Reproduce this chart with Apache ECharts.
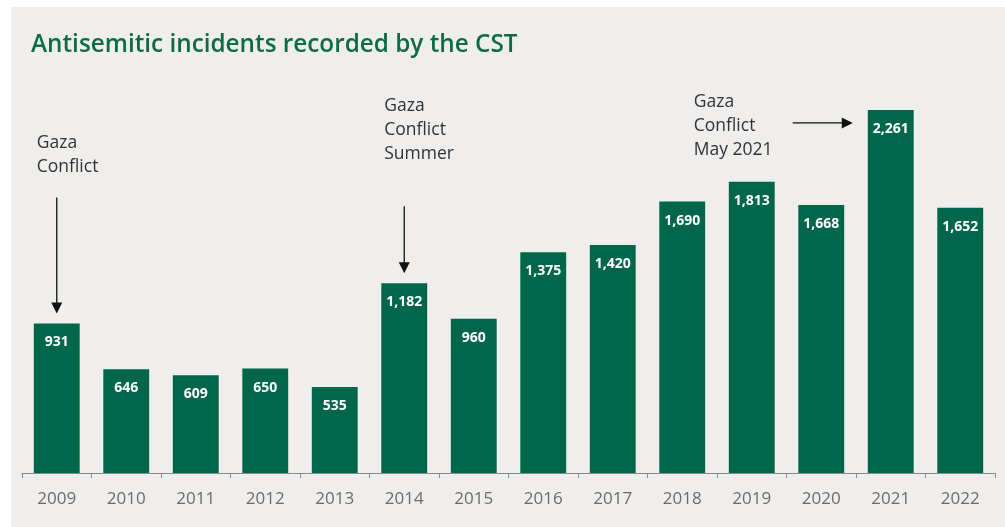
<!DOCTYPE html>
<html>
<head>
<meta charset="utf-8">
<script src="https://cdn.jsdelivr.net/npm/echarts@6/dist/echarts.min.js"></script>
<style>
  html, body { margin: 0; padding: 0; background: #ffffff; }
  #chart { position: absolute; left: 11px; top: 7px; width: 994px; height: 520px; background: #efeeec; }
</style>
</head>
<body>
<div id="chart"></div>
<script>
const years = ["2009", "2010", "2011", "2012", "2013", "2014", "2015", "2016", "2017", "2018", "2019", "2020", "2021", "2022"];
const incidents = [931, 646, 609, 650, 535, 1182, 960, 1375, 1420, 1690, 1813, 1668, 2261, 1652];
const notes = [
  { year: "2009", text: "Gaza\nConflict", dir: "down" },
  { year: "2014", text: "Gaza\nConflict\nSummer", dir: "down" },
  { year: "2021", text: "Gaza\nConflict\nMay 2021", dir: "right" },
];

const green = "#02664a";
const chart = echarts.init(document.getElementById("chart"));

const option = {
  backgroundColor: "#efeeec",
  title: {
    text: "Antisemitic incidents recorded by the CST",
    left: 15,
    top: 21,
    textStyle: {
      fontFamily: "Open Sans",
      fontWeight: 600,
      fontSize: 24.3,
      color: "#0d6b47",
    },
  },
  grid: { left: 11, right: 10, top: 64.5, bottom: 54 },
  xAxis: {
    type: "category",
    data: years,
    axisLine: { lineStyle: { color: "#8a8a8a", width: 1 } },
    axisTick: { show: true, length: 5, lineStyle: { color: "#8a8a8a" } },
    axisLabel: {
      fontFamily: "Open Sans",
      fontSize: 17,
      color: "#6b6b6b",
      margin: 18,
    },
  },
  yAxis: {
    type: "value",
    min: 0,
    max: 2500,
    show: false,
    splitLine: { show: false },
  },
  series: [
    {
      type: "bar",
      data: incidents,
      barCategoryGap: "34%",
      itemStyle: { color: green },
      label: {
        show: true,
        position: "insideTop",
        distance: 12,
        formatter: (p) => p.value.toLocaleString("en-US"),
        color: "#ffffff",
        fontFamily: "Open Sans",
        fontWeight: 700,
        fontSize: 14,
      },
      animation: false,
    },
  ],
  animation: false,
};
chart.setOption(option);

// annotations placed relative to each bar through the axis scales
const graphics = [];
notes.forEach((n) => {
  const i = years.indexOf(n.year);
  const [cx, top] = chart.convertToPixel({ seriesIndex: 0 }, [i, incidents[i]]);
  if (n.dir === "down") {
    const tipY = top - 10;
    const lines = n.text.split("\n").length;
    const startY = lines === 2 ? tipY - 116 : tipY - 67;
    const textTop = lines === 2 ? startY - 66 : startY - 112;
    graphics.push({
      type: "text",
      left: cx - 20,
      top: textTop,
      style: { text: n.text, font: '17.5px "Open Sans"', fill: "#333333", lineHeight: 24 },
    });
    graphics.push({
      type: "line",
      shape: { x1: cx, y1: startY, x2: cx, y2: tipY - 10 },
      style: { stroke: "#111111", lineWidth: 1.3 },
    });
    graphics.push({
      type: "polygon",
      shape: { points: [[cx - 5.5, tipY - 11], [cx + 5.5, tipY - 11], [cx, tipY]] },
      style: { fill: "#111111" },
    });
  } else {
    const barLeft = cx - 23;
    const tipX = barLeft - 15;
    const y = top + 13;
    graphics.push({
      type: "text",
      left: tipX - 159,
      top: y - 33,
      style: { text: n.text, font: '17.5px "Open Sans"', fill: "#333333", lineHeight: 24 },
    });
    graphics.push({
      type: "line",
      shape: { x1: tipX - 60, y1: y, x2: tipX - 10, y2: y },
      style: { stroke: "#111111", lineWidth: 1.3 },
    });
    graphics.push({
      type: "polygon",
      shape: { points: [[tipX - 11, y - 5.5], [tipX - 11, y + 5.5], [tipX, y]] },
      style: { fill: "#111111" },
    });
  }
});
chart.setOption({ graphic: graphics });
</script>
</body>
</html>
